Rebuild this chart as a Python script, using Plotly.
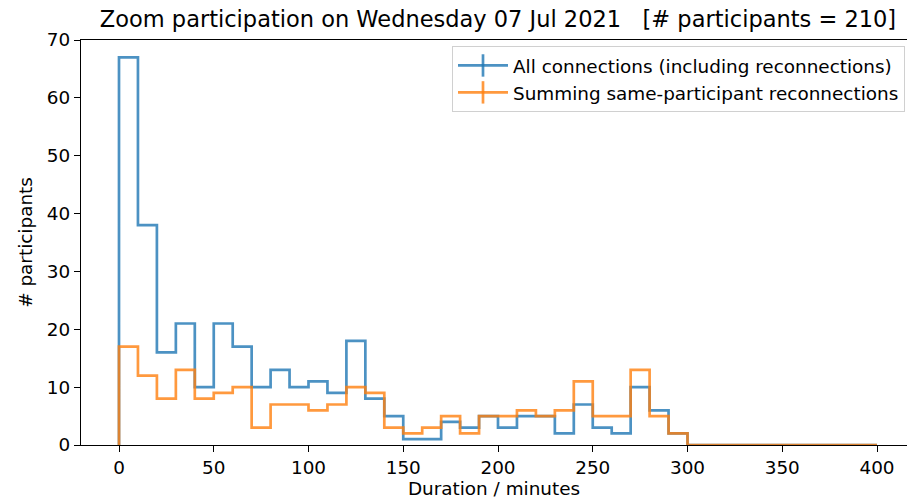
import plotly.graph_objects as go

# Histogram data: 10-minute bins from 0 to 400 minutes
bin_edges = list(range(0, 410, 10))
all_connections = [67, 38, 16, 21, 10, 21, 17, 10, 13, 10,
                   11, 9, 18, 8, 5, 1, 1, 4, 3, 5,
                   3, 5, 5, 2, 7, 3, 2, 10, 6, 2,
                   0, 0, 0, 0, 0, 0, 0, 0, 0, 0]
summed_reconnections = [17, 12, 8, 13, 8, 9, 10, 3, 7, 7,
                        6, 7, 10, 9, 3, 2, 3, 5, 2, 5,
                        5, 6, 5, 6, 11, 5, 5, 13, 5, 2,
                        0, 0, 0, 0, 0, 0, 0, 0, 0, 0]
series_names = ["All connections (including reconnections)",
                "Summing same-participant reconnections"]
x_ticks = [0, 50, 100, 150, 200, 250, 300, 350, 400]
y_ticks = [0, 10, 20, 30, 40, 50, 60, 70]
title_text = "Zoom participation on Wednesday 07 Jul 2021\u00a0\u00a0\u00a0[# participants = 210]"

colors = ["rgba(31,119,180,0.8)", "rgba(255,127,14,0.8)"]
FONT = "DejaVu Sans"
FS = 18.4
TFS = 22.5
LW = 2.7

fig = go.Figure()


def step_xy(counts):
    xs = [bin_edges[0]] + bin_edges
    ys = [0] + list(counts) + [0]
    return xs, ys


for counts, name, col in zip([all_connections, summed_reconnections], series_names, colors):
    xs, ys = step_xy(counts)
    fig.add_trace(go.Scatter(x=xs, y=ys, mode="lines", line_shape="hv",
                             line=dict(color=col, width=LW),
                             showlegend=False, hoverinfo="skip", name=name))

# legend entries (line with a vertical tick, like matplotlib's errorbar handle)
for name, col in zip(series_names, colors):
    fig.add_trace(go.Scatter(x=[None], y=[None], mode="lines+markers", name=name,
                             line=dict(color=col, width=LW),
                             marker=dict(symbol="line-ns", size=18,
                                         line=dict(color=col, width=LW))))

W, H = 907, 502
L, R, T, B = 81, 0, 40, 57
px_per_unit = 94.75 / 50
x0_px = 119
xmin = -(x0_px - L) / px_per_unit
xmax = (W - x0_px) / px_per_unit

axis_common = dict(showgrid=False, zeroline=False, showline=True, linecolor="black",
                   linewidth=1.3, ticks="outside", ticklen=6, tickcolor="black",
                   tickwidth=1.3, automargin=False,
                   tickfont=dict(family=FONT, size=FS, color="black"))

fig.update_layout(
    width=W, height=H,
    margin=dict(l=L, r=R, t=T, b=B, pad=0),
    paper_bgcolor="white", plot_bgcolor="white",
    font=dict(family=FONT, size=FS, color="black"),
    title=dict(text=title_text, x=498 / W, xanchor="center", xref="container",
               y=1 - 19 / H, yanchor="middle", yref="container",
               font=dict(family=FONT, size=TFS, color="black")),
    xaxis=dict(range=[xmin, xmax], tickvals=x_ticks, ticktext=[str(v) for v in x_ticks],
               mirror=True,
               title=dict(text="Duration / minutes", standoff=4,
                          font=dict(family=FONT, size=FS, color="black")),
               **axis_common),
    yaxis=dict(range=[0, 70], tickvals=y_ticks, ticktext=[str(v) for v in y_ticks],
               mirror=False,
               title=dict(text="# participants", standoff=9,
                          font=dict(family=FONT, size=FS, color="black")),
               **axis_common),
    legend=dict(x=(905 - L) / (W - L - R), xanchor="right",
                y=(445 - 46) / 405, yanchor="top",
                bgcolor="rgba(255,255,255,0.8)", bordercolor="#d0d0d0", borderwidth=1,
                font=dict(family=FONT, size=FS, color="black"),
                tracegroupgap=0, itemwidth=50),
)

fig.write_html("out.html", config={"displayModeBar": False},
               post_script="document.body.style.margin='0';")
